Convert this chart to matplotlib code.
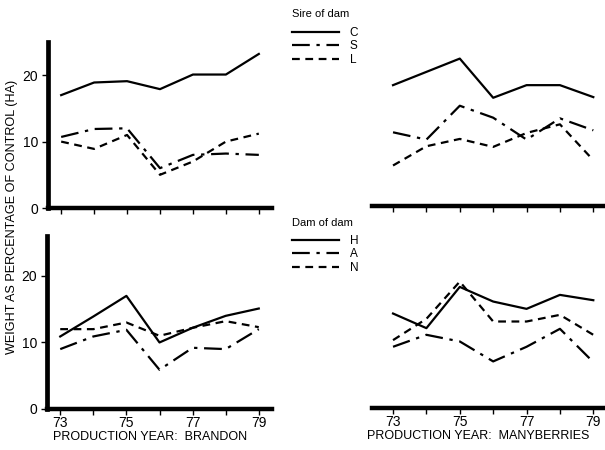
import numpy as np
import matplotlib.pyplot as plt
from matplotlib.lines import Line2D

plt.rcParams['font.family'] = ['Liberation Sans', 'DejaVu Sans']

years = [73, 74, 75, 76, 77, 78, 79]

# sire of dam (top row)
brandon_C = [17, 18.9, 19.1, 17.9, 20.1, 20.1, 23.2]
brandon_S = [10.7, 11.9, 12, 6, 8, 8.2, 8]
brandon_L = [10, 8.9, 11, 5, 7, 10, 11.2]
many_C = [18.2, 20.2, 22.2, 16.3, 18.2, 18.2, 16.4]
many_S = [11.1, 10, 15.1, 13.3, 10, 13.2, 11.4]
many_L = [6.1, 9, 10.1, 8.9, 11, 12.3, 6.9]

# dam of dam (bottom row)
brandon_H = [10.9, 13.9, 17, 10, 12.2, 14, 15.1]
brandon_A = [9, 10.9, 11.9, 5.9, 9.2, 9, 12]
brandon_N = [12, 12, 13, 11, 12.2, 13.2, 12.3]
many_H = [14.2, 12, 18.2, 16, 14.9, 17, 16.2]
many_A = [9.2, 11, 10, 7, 9.2, 11.9, 6.9]
many_N = [10.2, 13.4, 19, 13, 13, 14, 11]

sire_labels = ['C', 'S', 'L']
dam_labels = ['H', 'A', 'N']
ytick_vals = [0, 10, 20]

styles = ['-', (0, (8, 3, 1.5, 3)), (0, (3.5, 2.5))]
lw = 1.6

W, H = 605, 450
fig = plt.figure(figsize=(6.05, 4.5), dpi=100)


def px_axes(left, right, bottom, top):
    return fig.add_axes([left / W, 1 - bottom / H, (right - left) / W, (bottom - top) / H])


ax_tl = px_axes(48, 272, 208, 42)
ax_tr = px_axes(372, 610, 206, 40)
ax_bl = px_axes(47, 272, 409, 236)
ax_br = px_axes(372, 610, 408, 235)

panels = [
    (ax_tl, [brandon_C, brandon_S, brandon_L], 25, True, False),
    (ax_tr, [many_C, many_S, many_L], 25, False, False),
    (ax_bl, [brandon_H, brandon_A, brandon_N], 26, True, True),
    (ax_br, [many_H, many_A, many_N], 26, False, True),
]

for ax, series, ytop, left, bottom in panels:
    for vals, ls in zip(series, styles):
        ax.plot(years, vals, color='black', linestyle=ls, linewidth=lw)
    ax.set_ylim(0, ytop)
    if left:
        ax.set_xlim(72.6, 79.4)
    else:
        ax.set_xlim(72.37, 79.5)
    ax.set_facecolor('none')
    for s in ['top', 'right']:
        ax.spines[s].set_visible(False)
    ax.spines['bottom'].set_linewidth(3.2)
    ax.spines['left'].set_linewidth(3.4)
    ax.set_xticks(years)
    ax.tick_params(axis='x', direction='out', length=4, width=1, pad=1, labelsize=10)
    if bottom:
        ax.set_xticklabels([str(y) if y % 2 == 1 else '' for y in years])
    else:
        ax.set_xticklabels([])
    if left:
        ax.set_yticks(ytick_vals)
        ax.tick_params(axis='y', direction='out', length=4, width=1, pad=3, labelsize=10)
    else:
        ax.spines['left'].set_visible(False)
        ax.set_yticks([])

ax_bl.set_xlabel('PRODUCTION YEAR:  BRANDON', fontsize=9)
ax_br.set_xlabel('PRODUCTION YEAR:  MANYBERRIES', fontsize=9)
ax_bl.xaxis.set_label_coords(0.46, -0.125)
ax_br.xaxis.set_label_coords(0.445, -0.125)

fig.text(12 / W, 1 - 217 / H, 'WEIGHT AS PERCENTAGE OF CONTROL (HA)', rotation=90,
         ha='center', va='center', fontsize=9.1)

for labels, title, ty, ly in [(sire_labels, 'Sire of dam', 14, 27), (dam_labels, 'Dam of dam', 223, 235)]:
    fig.text(292 / W, 1 - ty / H, title, ha='left', va='center', fontsize=8)
    handles = [Line2D([], [], color='black', linestyle=ls, linewidth=lw) for ls in styles]
    fig.legend(handles, labels, loc='upper left', bbox_to_anchor=(292 / W, 1 - ly / H),
               frameon=False, fontsize=8.5, handlelength=4.0, borderaxespad=0,
               handletextpad=0.9, labelspacing=0.12, borderpad=0)

fig.savefig('out.png', dpi=100)
